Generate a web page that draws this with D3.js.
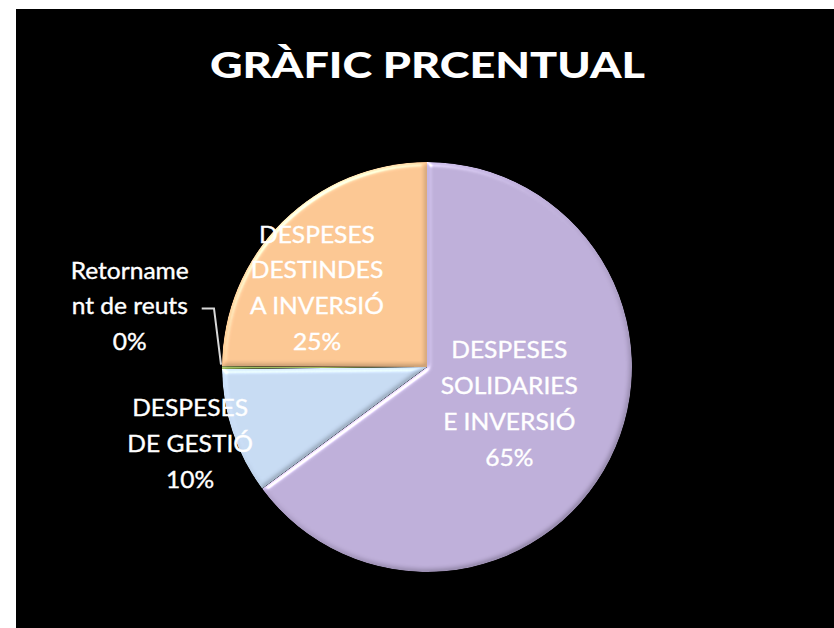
<!DOCTYPE html>
<html>
<head>
<meta charset="utf-8">
<script src="https://cdn.jsdelivr.net/npm/d3@7/dist/d3.min.js"></script>
<style>
  html, body { margin: 0; padding: 0; background: #fff; }
  svg { display: block; }
  text { font-family: Lato, "Open Sans", "DejaVu Sans", sans-serif; }
</style>
</head>
<body>
<script>
// ---- data ----
const title = "GRÀFIC PRCENTUAL";
const categories = [
  "DESPESES SOLIDARIES E INVERSIÓ",
  "DESPESES DE GESTIÓ",
  "Retornament de reuts",
  "DESPESES DESTINDES A INVERSIÓ"
];
const values = [65, 10, 0.2, 25];
const percentLabels = ["65%", "10%", "0%", "25%"];
const labelLines = [
  ["DESPESES", "SOLIDARIES", "E INVERSIÓ"],
  ["DESPESES", "DE GESTIÓ"],
  ["Retorname", "nt de reuts"],
  ["DESPESES", "DESTINDES", "A INVERSIÓ"]
];
const colors = ["#bcadd7", "#c5d9f1", "#9bbb59", "#fac591"];

// ---- layout ----
const W = 834, H = 628;
const cx = 427, cy = 367, R = 205;
const labelRadius = [0.44, 1.215, 1.48, 0.66];
const labelShift = [-2.5, 0.5, 11.7, -9.5];
const lineGap = 35.8;

const svg = d3.select("body").append("svg").attr("width", W).attr("height", H);
svg.append("rect").attr("width", W).attr("height", H).attr("fill", "#fff");
svg.append("rect").attr("x", 16).attr("y", 9).attr("width", W - 16).attr("height", H - 9).attr("fill", "#000");

const defs = svg.append("defs");
const f = defs.append("filter").attr("id", "bevel").attr("x", "-10%").attr("y", "-10%").attr("width", "120%").attr("height", "120%");
f.append("feGaussianBlur").attr("in", "SourceAlpha").attr("stdDeviation", 2.5).attr("result", "blur");
const sp = f.append("feSpecularLighting").attr("in", "blur").attr("surfaceScale", 3)
  .attr("specularConstant", 0.7).attr("specularExponent", 30).attr("lighting-color", "#ffffff").attr("result", "spec");
sp.append("feDistantLight").attr("azimuth", 235).attr("elevation", 35);
f.append("feComposite").attr("in", "spec").attr("in2", "SourceAlpha").attr("operator", "in").attr("result", "specOut");
const df = f.append("feDiffuseLighting").attr("in", "blur").attr("surfaceScale", 3).attr("diffuseConstant", 1)
  .attr("lighting-color", "#ffffff").attr("result", "diff");
df.append("feDistantLight").attr("azimuth", 235).attr("elevation", 35);
f.append("feComposite").attr("in", "SourceGraphic").attr("in2", "diff").attr("operator", "arithmetic")
  .attr("k1", 0.6).attr("k2", 0.66).attr("k3", 0).attr("k4", 0).attr("result", "lit");
f.append("feComposite").attr("in", "lit").attr("in2", "specOut").attr("operator", "arithmetic")
  .attr("k1", 0).attr("k2", 1).attr("k3", 0.8).attr("k4", 0).attr("result", "all");
f.append("feComposite").attr("in", "all").attr("in2", "SourceAlpha").attr("operator", "in");

const pie = d3.pie().sort(null).value(d => d)(values);
const arc = d3.arc().innerRadius(0).outerRadius(R);

const g = svg.append("g").attr("transform", `translate(${cx},${cy})`);
g.selectAll("path.slice").data(pie).join("path")
  .attr("class", "slice")
  .attr("d", arc)
  .attr("fill", (d, i) => colors[i])
  .attr("filter", "url(#bevel)");

// title
svg.append("text").text(title)
  .attr("x", 427.5).attr("y", 78)
  .attr("text-anchor", "middle")
  .attr("font-weight", 900).attr("font-size", 36).attr("fill", "#fff")
  .attr("textLength", 435).attr("lengthAdjust", "spacingAndGlyphs");

// labels
const fs = 22.5;
const probe = svg.append("text").attr("font-size", fs).text("DESPESES");
const sx = 116 / probe.node().getComputedTextLength();
probe.remove();

function labelCenter(d, i) {
  const mid = (d.startAngle + d.endAngle) / 2 + labelShift[i] * Math.PI / 180;
  const rr = R * labelRadius[i];
  return [Math.sin(mid) * rr, -Math.cos(mid) * rr];
}

pie.forEach((d, i) => {
  const lines = labelLines[i].concat([percentLabels[i]]);
  const [lx, ly] = labelCenter(d, i);
  const first = ly - (lines.length - 1) * lineGap / 2 + 8;
  const lg = g.append("g").attr("transform", `translate(${lx},0)`);
  const tx = lg.append("text").attr("transform", `scale(${sx},1)`)
    .attr("text-anchor", "middle").attr("font-size", fs).attr("fill", "#fff")
    .attr("stroke", "#fff").attr("stroke-width", 0.35);
  lines.forEach((ln, j) => {
    tx.append("tspan").attr("x", 0).attr("y", first + j * lineGap).text(ln);
  });
  if (i === 2) {
    const mid = (d.startAngle + d.endAngle) / 2;
    const ex = Math.sin(mid) * R, ey = -Math.cos(mid) * R;
    const y2 = first + lineGap - 6;
    const x2 = lx + 72;
    g.append("path")
      .attr("d", `M${x2},${y2}H${ex - 8}L${ex - 1},${ey - 3}`)
      .attr("fill", "none").attr("stroke", "#d9d9d9").attr("stroke-width", 2);
  }
});
</script>
</body>
</html>
